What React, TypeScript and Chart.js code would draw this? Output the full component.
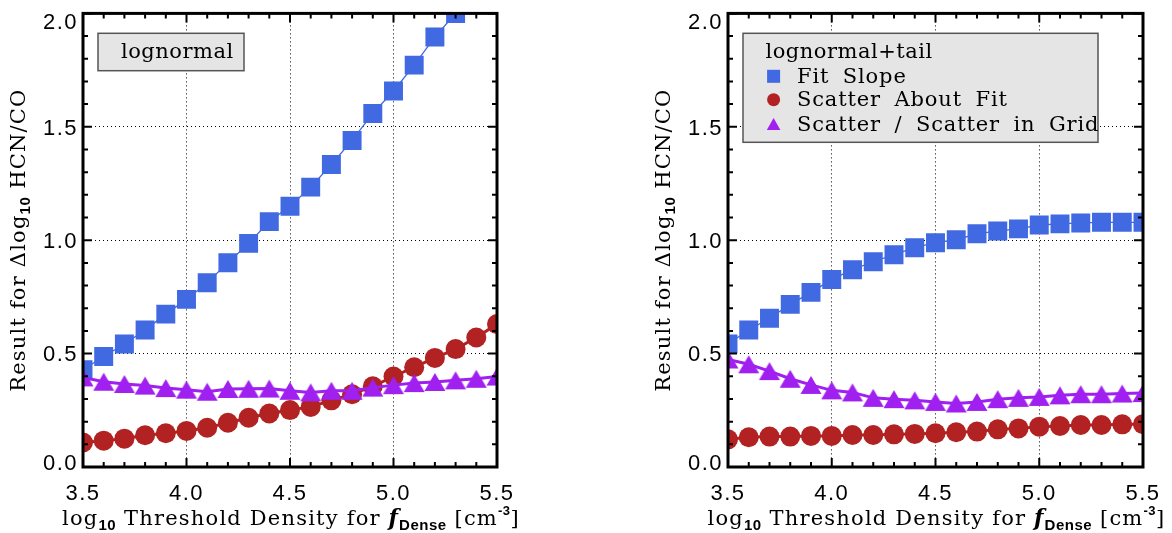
import React, { useEffect, useRef } from 'react';
import { Chart, registerables } from 'chart.js';

Chart.register(...registerables);

// ---------- data ----------
const densityValues = [3.5, 3.6, 3.7, 3.8, 3.9, 4.0, 4.1, 4.2, 4.3, 4.4, 4.5, 4.6, 4.7, 4.8, 4.9, 5.0, 5.1, 5.2, 5.3, 5.4, 5.5];

const slopeLognormal = [0.429, 0.487, 0.542, 0.604, 0.674, 0.739, 0.812, 0.901, 0.986, 1.082, 1.150, 1.234, 1.334, 1.440, 1.559, 1.658, 1.772, 1.896, 2.0, 2.12, 2.24];
const scatterLognormal = [0.108, 0.116, 0.125, 0.140, 0.149, 0.159, 0.173, 0.195, 0.217, 0.236, 0.251, 0.265, 0.294, 0.321, 0.356, 0.399, 0.440, 0.481, 0.520, 0.571, 0.630];
const ratioLognormal = [0.395, 0.376, 0.366, 0.359, 0.348, 0.341, 0.332, 0.344, 0.345, 0.346, 0.336, 0.329, 0.336, 0.336, 0.350, 0.361, 0.370, 0.375, 0.382, 0.389, 0.399];

const slopeTail = [0.542, 0.604, 0.656, 0.717, 0.770, 0.827, 0.870, 0.905, 0.936, 0.967, 0.989, 1.002, 1.028, 1.041, 1.050, 1.067, 1.072, 1.076, 1.079, 1.079, 1.079];
const scatterTail = [0.122, 0.131, 0.134, 0.134, 0.137, 0.137, 0.141, 0.141, 0.144, 0.146, 0.149, 0.153, 0.156, 0.166, 0.170, 0.178, 0.181, 0.185, 0.185, 0.188, 0.189];
const ratioTail = [0.474, 0.453, 0.423, 0.389, 0.362, 0.338, 0.329, 0.305, 0.299, 0.294, 0.287, 0.280, 0.287, 0.299, 0.305, 0.309, 0.316, 0.321, 0.321, 0.324, 0.326];

const xTickValues = [3.5, 4.0, 4.5, 5.0, 5.5];
const xTickLabels = ['3.5', '4.0', '4.5', '5.0', '5.5'];
const yTickValues = [0, 0.5, 1.0, 1.5, 2.0];
const yTickLabels = ['0.0', '0.5', '1.0', '1.5', '2.0'];

const panelTitles = ['lognormal', 'lognormal+tail'];
const seriesNames = ['Fit Slope', 'Scatter About Fit', 'Scatter / Scatter in Grid'];

// ---------- styles ----------
const BLUE = '#4169E1';
const RED = '#B22222';
const PURPLE = '#A020F0';
const W = 586;
const H = 533;
const MAIN = '21px "DejaVu Serif"';
const SUB = 'bold 15px "Liberation Sans"';
const TICKFONT = '22px "Liberation Sans"';

type Seg = { t: string; font: string; dy?: number; ls?: number; ws?: number };

function segWidth(ctx: any, s: Seg) {
  ctx.font = s.font;
  ctx.letterSpacing = (s.ls ?? 0) + 'px';
  ctx.wordSpacing = (s.ws ?? 0) + 'px';
  return ctx.measureText(s.t).width;
}

function drawRich(ctx: any, segs: Seg[], x: number, y: number, align: 'center' | 'left') {
  ctx.save();
  ctx.textAlign = 'left';
  ctx.textBaseline = 'alphabetic';
  ctx.fillStyle = '#000';
  const widths = segs.map((s) => segWidth(ctx, s));
  const total = widths.reduce((a, b) => a + b, 0);
  let cx = align === 'center' ? x - total / 2 : x;
  segs.forEach((s, i) => {
    ctx.font = s.font;
    ctx.letterSpacing = (s.ls ?? 0) + 'px';
    ctx.wordSpacing = (s.ws ?? 0) + 'px';
    ctx.fillText(s.t, cx, y + (s.dy ?? 0));
    cx += widths[i];
  });
  ctx.restore();
}

const M = (t: string, ls = 1.2): Seg => ({ t, font: MAIN, ls, ws: 6 });

const xTitleSegs: Seg[] = [
  M('log'),
  { t: '10', font: SUB, dy: 5, ls: 0.5 },
  M(' Threshold Density for '),
  { t: 'f', font: 'bold italic 22px "DejaVu Serif"', ls: 1 },
  { t: 'Dense', font: SUB, dy: 5, ls: 0.5 },
  M(' [cm'),
  { t: '-3', font: 'bold 13px "Liberation Sans"', dy: -10, ls: 0.5 },
  M(']'),
];

const yTitleSegs: Seg[] = [M('Result for Δlog'), { t: '10', font: SUB, dy: 5, ls: 0.5 }, M(' HCN/CO')];

function makeTriangle(color: string, w: number, h: number) {
  const c = document.createElement('canvas');
  const size = 24;
  c.width = size;
  c.height = size;
  const ctx = c.getContext('2d')!;
  ctx.fillStyle = color;
  ctx.beginPath();
  ctx.moveTo(size / 2, size / 2 - h / 2);
  ctx.lineTo(size / 2 + w / 2, size / 2 + h / 2);
  ctx.lineTo(size / 2 - w / 2, size / 2 + h / 2);
  ctx.closePath();
  ctx.fill();
  return c;
}

type PanelCfg = {
  plotLeft: number;
  plotRight: number;
  slope: number[];
  scatter: number[];
  ratio: number[];
  full: boolean;
  title: string;
  circleR: number;
};

function drawMarker(ctx: any, kind: number, x: number, y: number) {
  ctx.save();
  if (kind === 0) {
    ctx.fillStyle = BLUE;
    ctx.fillRect(x - 6.5, y - 6.5, 13, 13);
  } else if (kind === 1) {
    ctx.fillStyle = RED;
    ctx.beginPath();
    ctx.arc(x, y, 6.5, 0, Math.PI * 2);
    ctx.fill();
  } else {
    ctx.fillStyle = PURPLE;
    ctx.beginPath();
    ctx.moveTo(x, y - 6);
    ctx.lineTo(x + 6.8, y + 6);
    ctx.lineTo(x - 6.8, y + 6);
    ctx.closePath();
    ctx.fill();
  }
  ctx.restore();
}

function makeDecor(cfg: PanelCfg) {
  return {
    id: 'decor',
    afterDatasetsDraw(chart: any) {
      const ctx = chart.ctx;
      const { left, right, top, bottom } = chart.chartArea;
      const xs = chart.scales.x;
      const ys = chart.scales.y;
      ctx.save();
      // ticks
      ctx.strokeStyle = '#000';
      ctx.lineWidth = 2;
      ctx.beginPath();
      for (let i = 0; i <= 20; i++) {
        const v = 3.5 + i * 0.1;
        const len = i % 5 === 0 ? 9 : 5;
        const px = xs.getPixelForValue(v);
        ctx.moveTo(px, bottom);
        ctx.lineTo(px, bottom - len);
        ctx.moveTo(px, top);
        ctx.lineTo(px, top + len);
      }
      for (let i = 0; i <= 20; i++) {
        const v = i * 0.1;
        const len = i % 5 === 0 ? 9 : 5;
        const py = ys.getPixelForValue(v);
        ctx.moveTo(left, py);
        ctx.lineTo(left + len, py);
        ctx.moveTo(right, py);
        ctx.lineTo(right - len, py);
      }
      ctx.stroke();
      // frame
      ctx.lineWidth = 3;
      ctx.strokeRect(left, top, right - left, bottom - top);

      // tick labels
      ctx.fillStyle = '#000';
      ctx.font = TICKFONT;
      ctx.letterSpacing = '1.5px';
      ctx.textBaseline = 'alphabetic';
      ctx.textAlign = 'center';
      xTickValues.forEach((v, i) => {
        ctx.fillText(xTickLabels[i], xs.getPixelForValue(v), 499.5);
      });
      ctx.textAlign = 'right';
      yTickValues.forEach((v, i) => {
        let cy = ys.getPixelForValue(v);
        if (i === yTickValues.length - 1) cy = top + 7.5;
        if (i === 0) cy = bottom - 5;
        ctx.fillText(yTickLabels[i], left - 5, cy + 7.8);
      });
      ctx.letterSpacing = '0px';

      // axis titles
      drawRich(ctx, xTitleSegs, (left + right) / 2 + 1, 525, 'center');
      ctx.save();
      ctx.translate(left - 58, (top + bottom) / 2);
      ctx.rotate(-Math.PI / 2);
      drawRich(ctx, yTitleSegs, 0, 0, 'center');
      ctx.restore();

      // legend box
      const bx = left + 15;
      const by = 33.3;
      const bw = cfg.full ? 355 : 146;
      const bh = cfg.full ? 109 : 37.4;
      ctx.fillStyle = '#E5E5E5';
      ctx.fillRect(bx, by, bw, bh);
      ctx.strokeStyle = '#555';
      ctx.lineWidth = 1.5;
      ctx.strokeRect(bx, by, bw, bh);
      if (cfg.full) {
        drawRich(ctx, [M(cfg.title, 0.5)], bx + 22.5, 58.4, 'left');
        const baselines = [82.7, 106, 130.7];
        const centers = [76.3, 99.7, 124];
        seriesNames.forEach((n, i) => {
          drawMarker(ctx, i, bx + 30.6, centers[i]);
          drawRich(ctx, [M(n, 0.85)], bx + 54, baselines[i], 'left');
        });
      } else {
        drawRich(ctx, [M(cfg.title, 0.5)], bx + 23, 58.4, 'left');
      }
      ctx.restore();
    },
  };
}

function Panel({ cfg, offset }: { cfg: PanelCfg; offset: number }) {
  const ref = useRef<HTMLCanvasElement>(null);
  useEffect(() => {
    const tri = makeTriangle(PURPLE, 21, 18);
    const pts = (arr: number[]) => densityValues.map((x, i) => ({ x, y: arr[i] }));
    const gridCfg = { color: '#000', lineWidth: 1, drawTicks: false };
    const borderCfg = { display: false, dash: [1, 3] };
    const chart = new Chart(ref.current!, {
      type: 'line',
      data: {
        datasets: [
          {
            label: seriesNames[2],
            data: pts(cfg.ratio),
            borderColor: PURPLE,
            backgroundColor: PURPLE,
            borderWidth: 3,
            pointStyle: tri as any,
            pointRadius: 11,
            pointBorderWidth: 0,
            tension: 0,
            clip: 0,
          },
          {
            label: seriesNames[1],
            data: pts(cfg.scatter),
            borderColor: RED,
            backgroundColor: RED,
            borderWidth: 3,
            pointStyle: 'circle',
            pointRadius: cfg.circleR,
            pointBorderWidth: 0,
            tension: 0,
            clip: 0,
          },
          {
            label: seriesNames[0],
            data: pts(cfg.slope),
            borderColor: BLUE,
            backgroundColor: BLUE,
            borderWidth: 1.3,
            pointStyle: 'rect',
            pointRadius: 13.4,
            pointBorderWidth: 0,
            tension: 0,
            clip: 0,
          },
        ],
      },
      options: {
        animation: false,
        responsive: false,
        maintainAspectRatio: false,
        layout: { padding: { left: 0, right: W - cfg.plotRight, top: 10, bottom: 0 } },
        plugins: { legend: { display: false }, tooltip: { enabled: false }, title: { display: false } },
        scales: {
          x: {
            type: 'linear',
            min: 3.5,
            max: 5.5,
            ticks: { display: false, stepSize: 0.5 },
            grid: gridCfg,
            border: borderCfg,
            afterFit: (s: any) => {
              s.height = H - 467;
            },
          },
          y: {
            type: 'linear',
            min: 0,
            max: 2,
            ticks: { display: false, stepSize: 0.5 },
            grid: gridCfg,
            border: borderCfg,
            afterFit: (s: any) => {
              s.width = cfg.plotLeft;
            },
          },
        },
      } as any,
      plugins: [makeDecor(cfg)],
    });
    return () => chart.destroy();
  }, []);
  return (
    <canvas
      ref={ref}
      width={W}
      height={H}
      style={{ position: 'absolute', left: offset, top: 0, width: W, height: H, display: 'block' }}
    />
  );
}

const leftCfg: PanelCfg = {
  plotLeft: 83,
  plotRight: 497,
  slope: slopeLognormal,
  scatter: scatterLognormal,
  ratio: ratioLognormal,
  full: false,
  title: panelTitles[0],
  circleR: 10,
};
const rightCfg: PanelCfg = {
  plotLeft: 142,
  plotRight: 557,
  slope: slopeTail,
  scatter: scatterTail,
  ratio: ratioTail,
  full: true,
  title: panelTitles[1],
  circleR: 10,
};

export default function App() {
  return (
    <div style={{ position: 'absolute', left: 0, top: 0, width: 1172, height: 533, background: '#fff', overflow: 'hidden' }}>
      <Panel cfg={leftCfg} offset={0} />
      <Panel cfg={rightCfg} offset={W} />
    </div>
  );
}
